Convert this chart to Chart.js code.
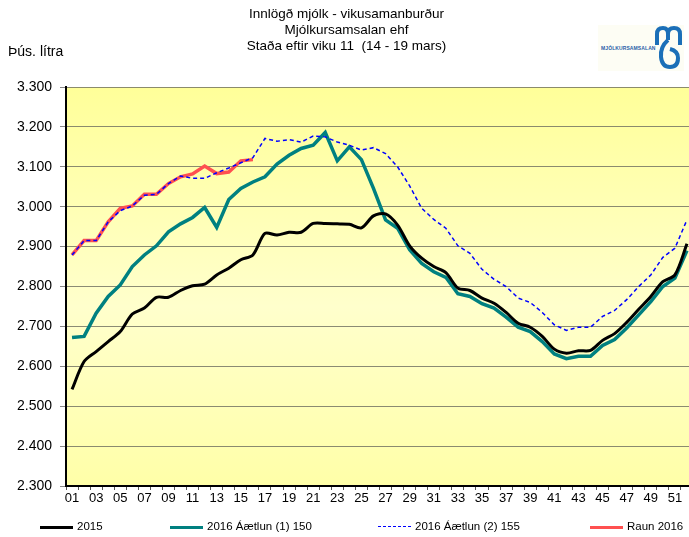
<!DOCTYPE html>
<html>
<head>
<meta charset="utf-8">
<script src="https://cdn.jsdelivr.net/npm/chart.js@4.4.1/dist/chart.umd.min.js"></script>
<style>
  html, body { margin: 0; padding: 0; background: #fff; overflow: hidden; width: 689px; height: 537px; }
  #wrap { position: relative; width: 693px; height: 537px; }
  #c { position: absolute; left: 0; top: 0; }
  .lbl { position: absolute; font-family: "Liberation Sans", Arial, sans-serif; color: #000; white-space: nowrap; }
  .leg { position: absolute; top: 520px; height: 14px; font-family: "Liberation Sans", Arial, sans-serif; font-size: 11.5px; color: #000; white-space: nowrap; }
  .leg span.sw { position: absolute; left: 0; top: 6px; width: 33px; }
  .leg span.tx { position: absolute; left: 37px; top: 0; }
  #logo { position: absolute; left: 598px; top: 25px; width: 86px; height: 46px; background: #fdfdf4; }
  #logo .small { position: absolute; left: 3px; top: 20px; font-family: "Liberation Sans", Arial, sans-serif; font-size: 5px; font-weight: bold; color: #2a5ea8; letter-spacing: 0.1px; }
</style>
</head>
<body>
<div id="wrap">
  <canvas id="c" width="693" height="537"></canvas>
  <div class="lbl" style="left:8px; top:43px; font-size:14px;">Þús. lítra</div>
  <div id="logo">
    <div class="small">MJÓLKURSAMSALAN</div>
    <svg width="86" height="46" style="position:absolute;left:0;top:0">
      <path d="M59 20 L59 9 Q59 3 65 3 Q70 3 70 9 L70 15 M70 9 Q70 3 76 3 Q82 3 82 9 L82 20" fill="none" stroke="#1b6fb8" stroke-width="4"/>
      <path d="M70 15 Q62 22 63 32 Q64 42 72 42 Q80 42 80 33 Q80 26 72 24" fill="none" stroke="#1b6fb8" stroke-width="4"/>
    </svg>
  </div>
  <div id="legend"></div>
</div>
<script>
// vikur
var weeks = ['01','02','03','04','05','06','07','08','09','10','11','12','13','14','15','16','17','18','19','20','21','22','23','24','25','26',
             '27','28','29','30','31','32','33','34','35','36','37','38','39','40','41','42','43','44','45','46','47','48','49','50','51','52'];

// gögn (þús. lítra)
var data_2015 = [2542,2612,2637,2662,2687,2731,2746,2773,2773,2790,2802,2806,2829,2846,2867,2879,2933,2929,2936,2936,2958,2958,2957,2956,2947,2977,
                 2982,2954,2902,2871,2850,2835,2796,2790,2771,2758,2735,2708,2698,2675,2643,2633,2639,2640,2665,2682,2710,2743,2775,2812,2829,2907];
var data_aetlun1 = [2672,2675,2733,2775,2804,2850,2879,2902,2937,2957,2973,2998,2948,3018,3046,3062,3075,3107,3129,3146,3154,3186,3115,3150,3118,3046,
                    2967,2946,2892,2858,2837,2823,2782,2775,2757,2746,2723,2698,2687,2662,2631,2619,2625,2625,2652,2667,2696,2729,2762,2800,2821,2890];
var data_aetlun2 = [2879,2915,2915,2962,2990,3002,3029,3031,3058,3077,3071,3071,3085,3097,3110,3123,3171,3164,3168,3162,3177,3175,3162,3154,3142,3148,
                    3133,3100,3052,2996,2968,2946,2902,2883,2843,2818,2800,2771,2760,2735,2704,2690,2698,2698,2725,2740,2767,2800,2829,2873,2896,2967];
var data_raun = [2879,2915,2915,2962,2996,3002,3031,3031,3058,3075,3082,3102,3083,3087,3115,3118];

var titleLines = ['Innlögð mjólk - vikusamanburður', 'Mjólkursamsalan ehf', 'Staða eftir viku 11  (14 - 19 mars)'];

Chart.defaults.font.family = '"Liberation Sans", Arial, sans-serif';
Chart.defaults.color = '#000';

// gulur bakgrunnur
const bgPlugin = {
  id: 'bg',
  beforeDraw(chart) {
    const a = chart.chartArea;
    const ctx = chart.ctx;
    const g = ctx.createLinearGradient(0, a.top, 0, a.bottom);
    g.addColorStop(0, '#ffff99');
    g.addColorStop(0.55, '#ffffcc');
    g.addColorStop(1, '#ffffa8');
    ctx.save();
    ctx.fillStyle = g;
    ctx.fillRect(a.left, a.top, a.right - a.left, a.bottom - a.top);
    ctx.restore();
  }
};

const dataM = {
  labels: weeks,
  datasets: [{
    label: '2015',
    data: data_2015,
    borderColor: '#000000',
    borderWidth: 3,
    tension: 0.3,
    order: 2
  }, {
    label: '2016 Áætlun (1) 150',
    data: data_aetlun1,
    borderColor: '#008080',
    borderWidth: 3.5,
    tension: 0,
    order: 4
  }, {
    label: '2016 Áætlun (2) 155',
    data: data_aetlun2,
    borderColor: '#0000ff',
    borderWidth: 1.5,
    borderDash: [4, 3],
    tension: 0,
    order: 1
  }, {
    label: 'Raun 2016',
    data: data_raun,
    borderColor: '#ff5050',
    borderWidth: 3.5,
    tension: 0,
    order: 3
  }]
};

const configM = {
  type: 'line',
  data: dataM,
  options: {
    responsive: false,
    animation: false,
    elements: { point: { radius: 0 } },
    layout: { padding: { left: 0, right: 0, top: 0, bottom: 21 } },
    plugins: {
      legend: { display: false },
      tooltip: { enabled: false },
      title: {
        display: true,
        text: titleLines,
        font: { size: 13.5, weight: 'normal', lineHeight: '16px' },
        color: '#000',
        padding: { top: 6, bottom: 33 }
      }
    },
    scales: {
      x: {
        offset: true,
        grid: { offset: true, drawOnChartArea: false, drawTicks: true, tickLength: 4, tickColor: '#555' },
        border: { color: '#000', width: 2 },
        ticks: {
          autoSkip: false, maxRotation: 0, padding: 1,
          font: { size: 13 },
          callback: function(v, i) { return i % 2 === 0 ? weeks[i] : ''; }
        },
        afterFit: function(s) { s.height = 30; }
      },
      y: {
        min: 2300, max: 3300,
        grid: { color: 'rgba(110,110,95,0.8)', lineWidth: 1, tickLength: 6, tickColor: '#888' },
        border: { color: '#000', width: 2 },
        ticks: {
          stepSize: 100, padding: 8,
          font: { size: 14 },
          callback: function(v) { return (v / 1000).toFixed(3); }
        },
        afterFit: function(s) { s.width = 66; }
      }
    }
  },
  plugins: [bgPlugin]
};

var mChart = new Chart(document.getElementById('c'), configM);

// skýringar neðst
var legLeft = [40, 170, 378, 590];
var legHtml = '';
mChart.data.datasets.forEach(function(ds, i) {
  var line = ds.borderDash ? 'border-top:' + ds.borderWidth + 'px dashed ' + ds.borderColor
                           : 'border-top:' + ds.borderWidth + 'px solid ' + ds.borderColor;
  legHtml += '<div class="leg" style="left:' + legLeft[i] + 'px"><span class="sw" style="' + line + '"></span><span class="tx">' + ds.label + '</span></div>';
});
document.getElementById('legend').innerHTML = legHtml;
</script>
</body>
</html>
